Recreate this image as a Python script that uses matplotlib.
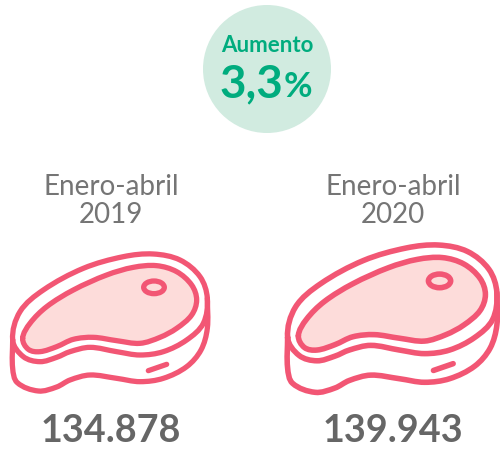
import numpy as np
import matplotlib
matplotlib.use("Agg")
import matplotlib.pyplot as plt
from matplotlib.path import Path
from matplotlib.patches import PathPatch, Circle, Ellipse

plt.rcParams['font.family'] = ['Lato', 'DejaVu Sans']

periods = ["Enero-abril\n2019", "Enero-abril\n2020"]
values = ["134.878", "139.943"]
badge_title = "Aumento"
badge_number = "3,3"
badge_unit = "%"

STROKE = "#F25674"
FILL = "#FDDCDA"
GREEN = "#00AC7E"
BADGE = "#D1EBE0"
LABEL = "#757575"
VALUE = "#666666"

# icon outline in the zoomed icon's own units
OUTER = [(38,300),(60,215),(130,150),(250,85),(370,50),(460,42),(540,60),(600,110),(622,175),
         (610,250),(560,300),(490,335),(420,345),(350,335),(270,322),(210,335),(170,352),(120,365),(70,350)]
INNER = [(68,295),(90,250),(140,200),(220,150),(320,105),(400,82),(470,77),(530,95),(575,135),(590,180),
         (575,225),(530,265),(480,292),(420,310),(350,302),(280,292),(220,298),(170,320),(120,335),(85,328)]
SIDE = [(38,300),(38,385),(52,428),(115,453),(170,441),(210,420),(270,405),(350,415),(420,425),(490,415),
        (560,380),(603,330),(622,265),(622,175)]


def smooth(points, closed):
    p = np.array(points, float)
    n = len(p)
    tang = []
    for i in range(n):
        if closed:
            d = p[(i+1) % n] - p[(i-1) % n]
        else:
            d = p[min(i+1, n-1)] - p[max(i-1, 0)]
        tang.append(d / np.linalg.norm(d))
    verts, codes = [p[0]], [Path.MOVETO]
    for i in range(n if closed else n - 1):
        j = (i+1) % n
        L = np.linalg.norm(p[j] - p[i]) / 3
        verts += [p[i] + tang[i]*L, p[j] - tang[j]*L, p[j]]
        codes += [Path.CURVE4]*3
    return Path(np.array(verts), codes)


def steak(ax, x, y, scale, lw):
    tr = matplotlib.transforms.Affine2D().scale(scale/3).translate(x, y) + ax.transData
    kw = dict(edgecolor=STROKE, lw=lw, transform=tr, capstyle="round", joinstyle="round")
    ax.add_patch(PathPatch(smooth(OUTER, True), facecolor="white", **kw))
    ax.add_patch(PathPatch(smooth(SIDE, False), facecolor="none", **kw))
    ax.add_patch(PathPatch(smooth(INNER, True), facecolor=FILL, **kw))
    ax.add_patch(Ellipse((462, 142), 62, 38, facecolor=FILL, **kw))
    ax.add_patch(PathPatch(Path([(445, 392), (500, 373)]), facecolor="none", **kw))


fig = plt.figure(figsize=(5, 4.49), dpi=100)
ax = fig.add_axes([0, 0, 1, 1])
ax.set_xlim(0, 500)
ax.set_ylim(449, 0)
ax.axis("off")

ax.add_patch(Circle((267, 69), 64, facecolor=BADGE, edgecolor="none"))
ax.text(267, 46, badge_title, color=GREEN, fontsize=16, fontweight="bold", ha="center", va="center")
ax.text(220, 84, badge_number, color=GREEN, fontsize=33, fontweight="bold", ha="left", va="center")
ax.text(284, 87, badge_unit, color=GREEN, fontsize=25, fontweight="bold", ha="left", va="center")

centers = [111, 393]
anchors = [(0, 240), (274, 230)]
scales = [1.0, 1.075]
widths = [3.8, 4.0]
for cx, per, val, (ax0, ay0), s, lw in zip(centers, periods, values, anchors, scales, widths):
    ax.text(cx, 201, per, color=LABEL, fontsize=20, ha="center", va="center", linespacing=1.05)
    ax.text(cx, 431, val, color=VALUE, fontsize=27.2, fontweight="bold", ha="center", va="center")
    steak(ax, ax0, ay0, s, lw)

fig.savefig("out.png", dpi=100)
